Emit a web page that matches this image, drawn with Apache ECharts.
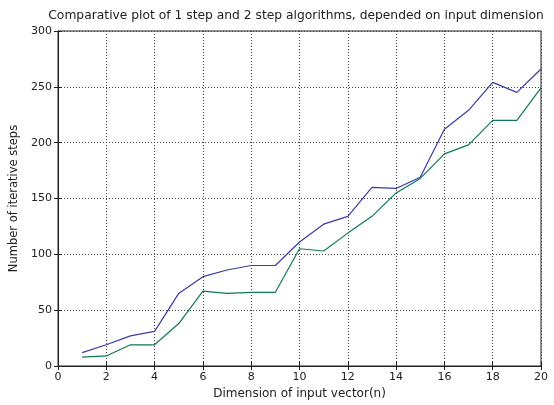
<!DOCTYPE html>
<html>
<head>
<meta charset="utf-8">
<script src="https://cdn.jsdelivr.net/npm/echarts@6/dist/echarts.min.js"></script>
<style>
  html, body { margin: 0; padding: 0; background: #fff; }
  #main { width: 554px; height: 405px; }
</style>
</head>
<body>
<div id="main"></div>
<script>
  // input dimension n
  var dims = [1, 2, 3, 4, 5, 6, 7, 8, 9, 10, 11, 12, 13, 14, 15, 16, 17, 18, 19, 20]
  // iterative steps
  var oneStep = [12, 19, 27, 31, 65, 80, 86, 90, 90, 111, 127, 134, 160, 159, 169, 212, 229, 254, 245, 266]
  var twoStep = [8, 9, 19, 19, 38, 67, 65, 66, 66, 105, 103, 119, 134, 155, 168, 190, 198, 220, 220, 249]

  var font = 'DejaVu Sans, sans-serif'
  var myChart = echarts.init(document.getElementById('main'))

  function pairs(ys) {
    return dims.map(function (d, i) { return [d, ys[i]] })
  }

  var gridLine = { show: true, lineStyle: { color: '#444', type: [1, 2], width: 1 } }

  myChart.setOption({
    animation: false,
    title: {
      text: 'Comparative plot of 1 step and 2 step algorithms, depended on input dimension',
      left: 291,
      textAlign: 'center',
      top: 5,
      textStyle: { fontFamily: font, fontSize: 12.3, fontWeight: 'normal', color: '#222' }
    },
    grid: {
      left: 56, right: 13, top: 31, bottom: 36,
      show: true, borderColor: '#222', borderWidth: 1, backgroundColor: '#fff'
    },
    xAxis: [{
      type: 'value', min: 0, max: 20, interval: 2,
      name: 'Dimension of input vector(n)', nameLocation: 'middle', nameGap: 22,
      nameTextStyle: { fontFamily: font, fontSize: 12, color: '#222' },
      axisLine: { show: true, lineStyle: { color: '#222' } },
      axisTick: { show: true, inside: true, length: 4, lineStyle: { color: '#222' } },
      axisLabel: { fontFamily: font, fontSize: 11, color: '#222', margin: 6 },
      splitLine: gridLine
    }, {
      type: 'value', min: 0, max: 20, interval: 2, position: 'top',
      axisLine: { show: true, lineStyle: { color: '#222' } },
      axisTick: { show: true, inside: true, length: 4, lineStyle: { color: '#222' } },
      axisLabel: { show: false }, splitLine: { show: false }
    }],
    yAxis: [{
      type: 'value', min: 0, max: 300, interval: 50,
      name: 'Number of iterative steps', nameLocation: 'middle', nameGap: 38,
      nameTextStyle: { fontFamily: font, fontSize: 11.5, color: '#222' },
      axisLine: { show: true, lineStyle: { color: '#222' } },
      axisTick: { show: true, inside: true, length: 4, lineStyle: { color: '#222' } },
      axisLabel: { fontFamily: font, fontSize: 11, color: '#222', margin: 6 },
      splitLine: gridLine
    }, {
      type: 'value', min: 0, max: 300, interval: 50, position: 'right',
      axisLine: { show: true, lineStyle: { color: '#222' } },
      axisTick: { show: true, inside: true, length: 4, lineStyle: { color: '#222' } },
      axisLabel: { show: false }, splitLine: { show: false }
    }],
    series: [{
      name: '1 step',
      type: 'line',
      symbol: 'none',
      data: pairs(oneStep),
      lineStyle: { color: '#3b3ba6', width: 1.2 }
    }, {
      name: '2 step',
      type: 'line',
      symbol: 'none',
      data: pairs(twoStep),
      lineStyle: { color: '#0e7a52', width: 1.2 }
    }]
  })
</script>
</body>
</html>
